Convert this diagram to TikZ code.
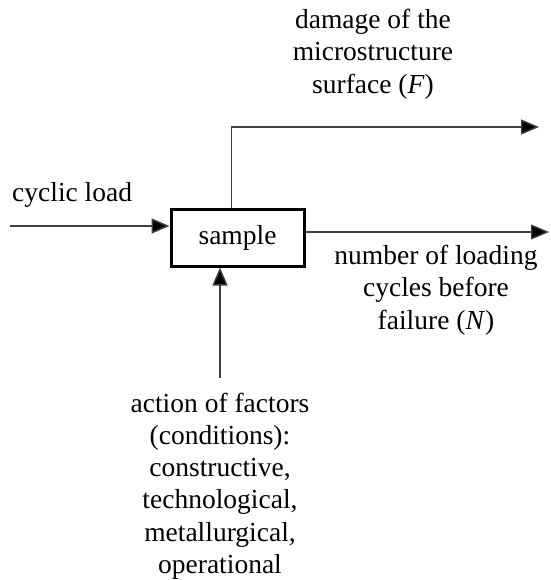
\documentclass[tikz,border=0pt]{standalone}
\usepackage{fontspec}
\setmainfont{Liberation Serif}
\usetikzlibrary{arrows.meta}
\begin{document}
\begin{tikzpicture}[x=1pt,y=-1pt,
  lbl/.style={font=\fontsize{27.5}{32.3}\selectfont, inner sep=0pt, align=center},
  flow/.style={draw=black!75, line width=1.4pt, -{Triangle[length=18pt,width=15pt,fill=black]}},
  box/.style={draw=black, line width=3pt, minimum width=133pt, minimum height=57pt, inner sep=0pt, font=\fontsize{27.5}{32.3}\selectfont}]
\useasboundingbox (0,0) rectangle (550,580);
\node[box] (sample) at (237.5,237.5) {sample};
\node[lbl, anchor=base west] (load) at (12,201) {cyclic load};
\coordinate (loadstart) at (10,226);
\draw[flow] (loadstart) -- (loadstart -| sample.west);
\coordinate (topend) at (539,127);
\draw[flow] ([xshift=62pt]sample.north west) |- (topend);
\coordinate (rightend) at (549,232);
\draw[flow] ([yshift=5.5pt]sample.east) -- (rightend);
\coordinate (bstart) at (220,378);
\draw[flow] (bstart) -- (bstart |- sample.south);
\node[lbl] (damage) at (373,54) {damage of the\\microstructure\\surface (\textit{F})};
\node[lbl] (cycles) at (436,290) {number of loading\\cycles before\\failure (\textit{N})};
\node[lbl] (factors) at (220,486) {action of factors\\(conditions):\\constructive,\\technological,\\metallurgical,\\operational};
\end{tikzpicture}
\end{document}
